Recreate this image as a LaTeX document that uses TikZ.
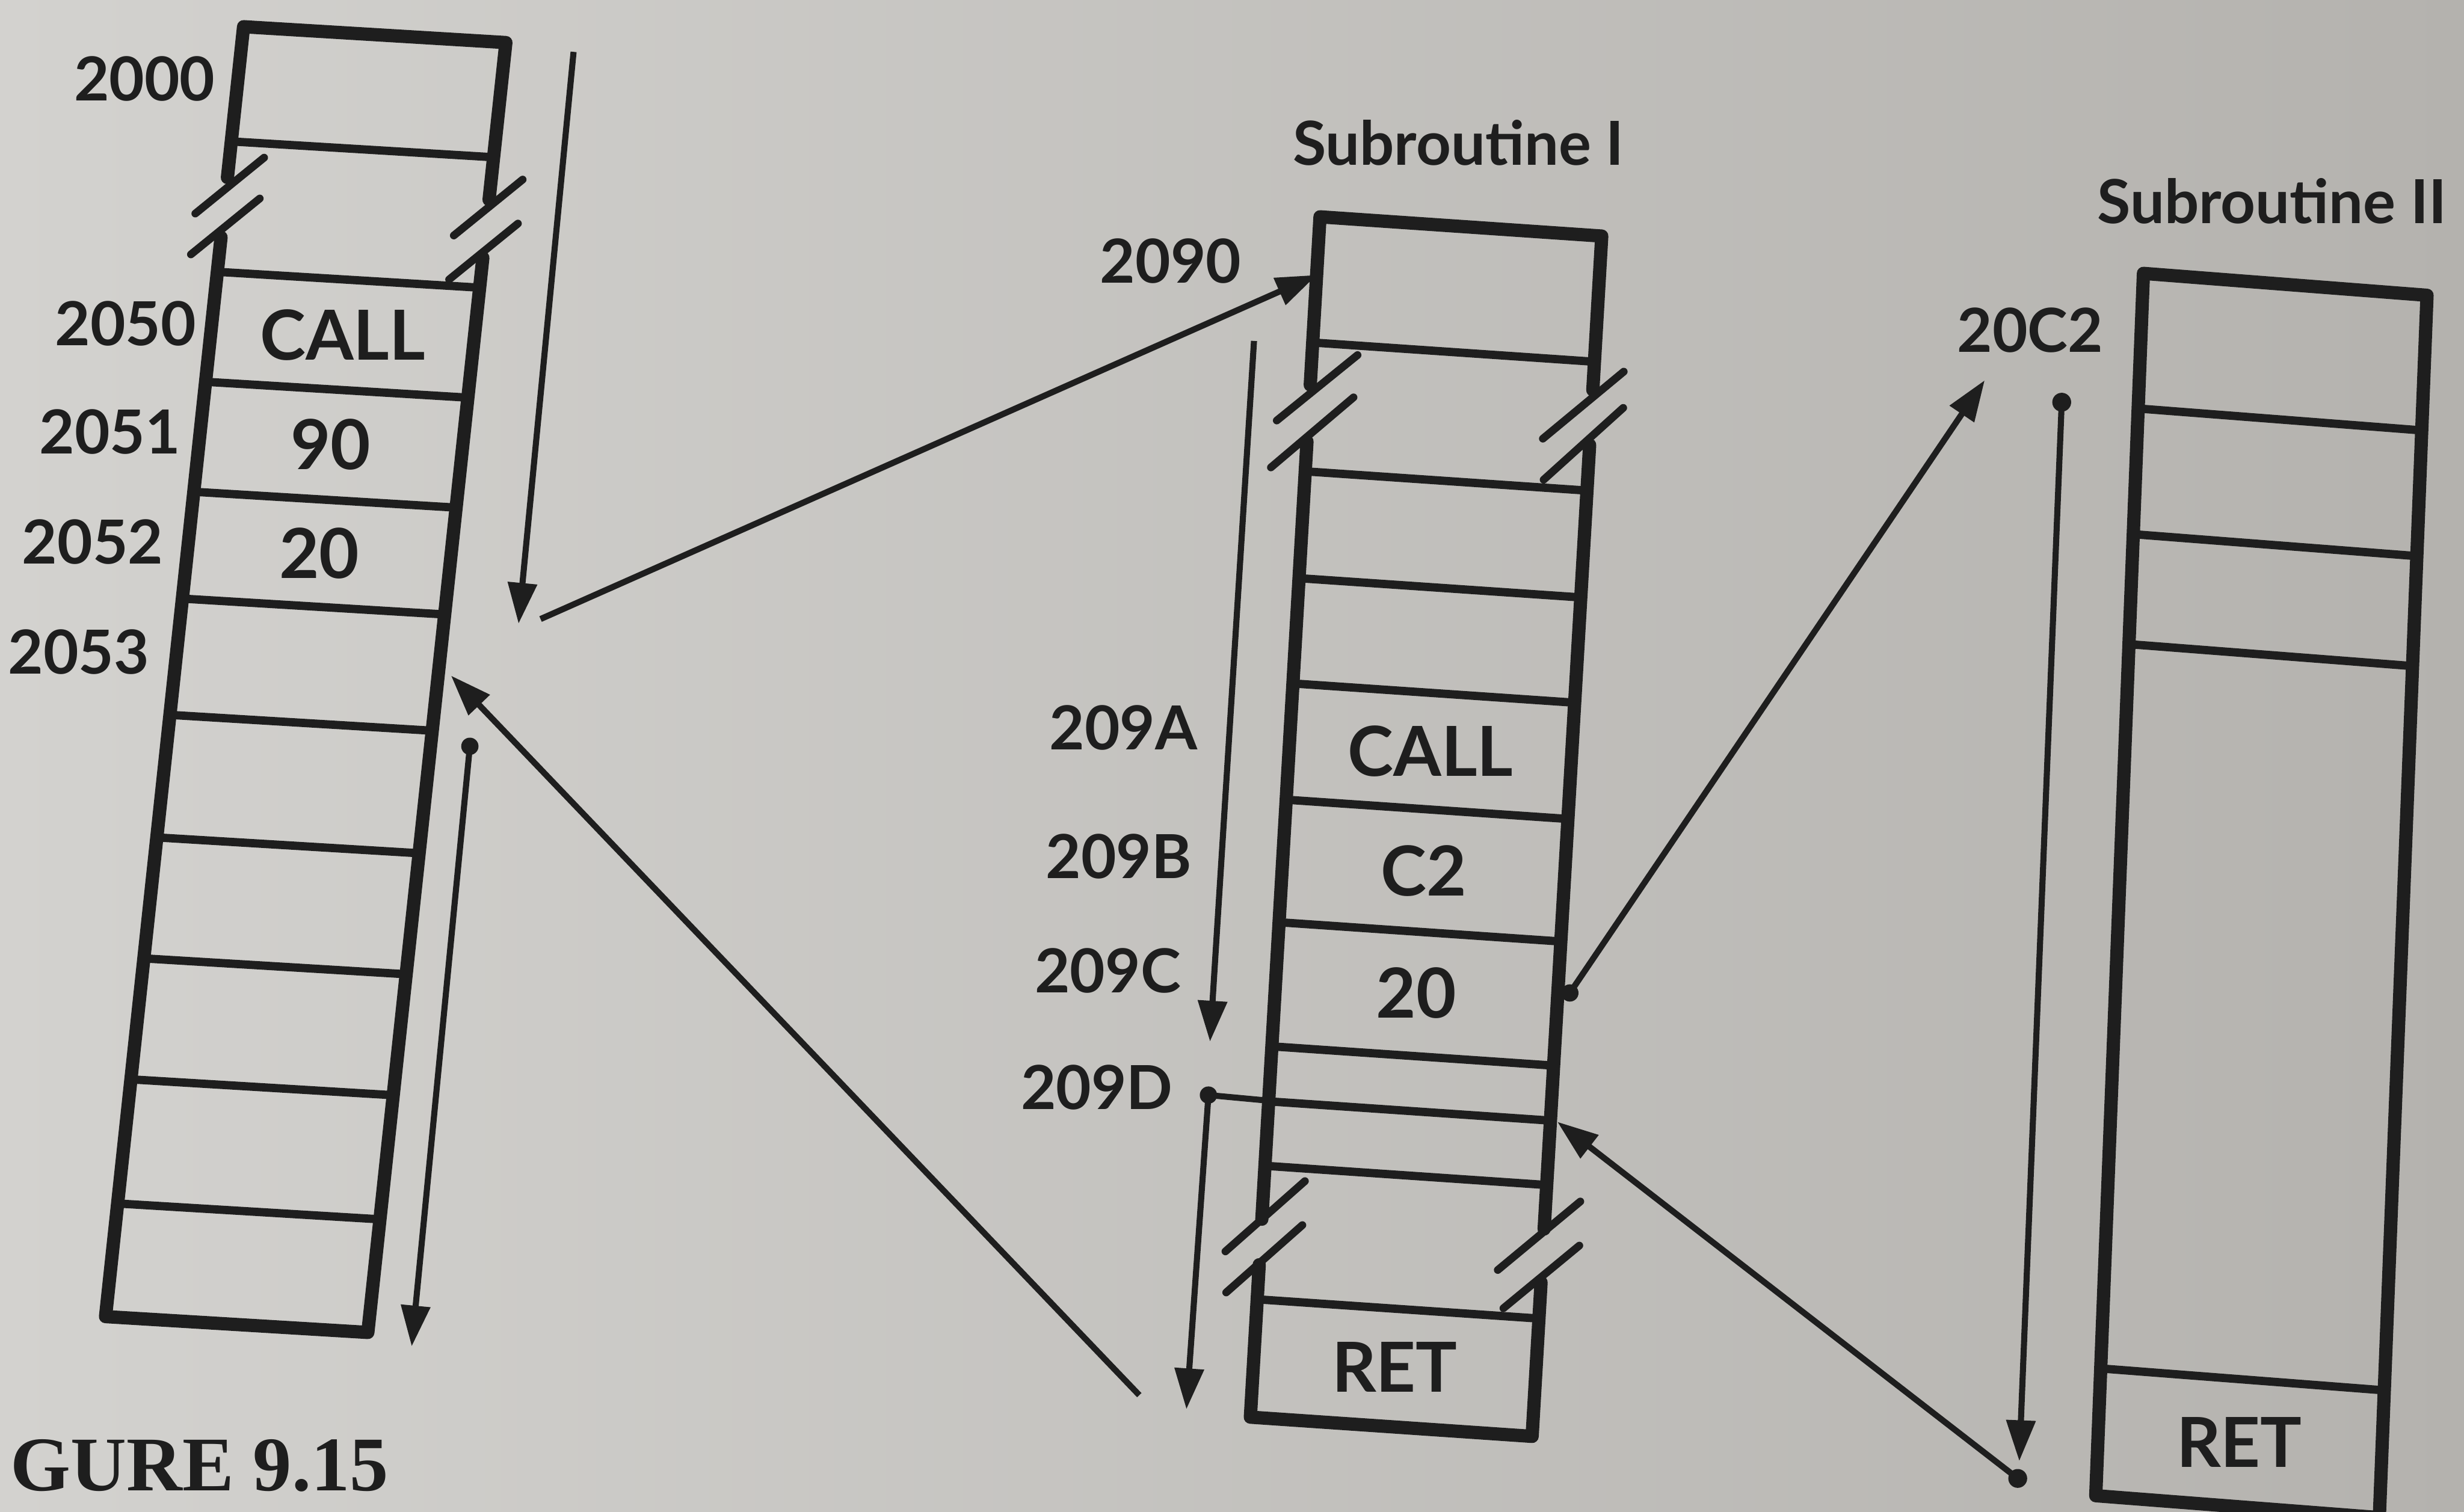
\documentclass[tikz,border=0pt]{standalone}
\usepackage{fontspec}
\usetikzlibrary{arrows.meta}
\newfontfamily\labfont{Lato}
\newfontfamily\capfont{Liberation Serif}
\definecolor{ink}{HTML}{1E1E1E}
\definecolor{paperL}{HTML}{D3D2CF}
\definecolor{paperR}{HTML}{B4B2AE}
\begin{document}
\begin{tikzpicture}[x=0.1mm,y=-0.1mm,
  outer/.style={draw=ink,line width=2.4pt,line join=round,line cap=round},
  inner/.style={draw=ink,line width=1.5pt},
  slash/.style={draw=ink,line width=1.4pt,line cap=round},
  conn/.style={draw=ink,line width=1.1pt,-{Triangle[length=2.6mm,width=1.8mm]}},
  plain/.style={draw=ink,line width=1.1pt},
  dot/.style={fill=ink},
  lab/.style={text=ink,font=\labfont\bfseries\fontsize{11}{13}\selectfont,inner sep=0pt},
  celltxt/.style={text=ink,font=\labfont\bfseries\fontsize{12.5}{14}\selectfont,inner sep=0pt},
  captxt/.style={text=ink,font=\capfont\bfseries\fontsize{14}{16}\selectfont,inner sep=0pt}]
\path[use as bounding box] (0,0) rectangle (1568,962);
\shade[left color=paperL,right color=paperR] (0,0) rectangle (1568,962);
\clip (0,0) rectangle (1568,962);

% ---------- Main program column ----------
\begin{scope}[shift={(155,17)},xslant=0.107,yslant=-0.06]
  \draw[outer] (0,96) -- (0,0) -- (168,0) -- (168,100);
  \draw[outer] (0,134) -- (0,821) -- (168,821) -- (168,137);
  \foreach \v in {73,156,226,296,364,438,516,593,670,749}
    \draw[inner] (0,\v) -- (168,\v);
  \draw[slash] (-18,120) -- (22,82);
  \draw[slash] (-18,146) -- (22,108);
  \draw[slash] (148,124) -- (188,86);
  \draw[slash] (148,152) -- (188,114);
  \node[celltxt] (mCALL) at (84,191) {CALL};
  \node[celltxt] (m90) at (84,261) {90};
  \node[celltxt] (m20) at (84,330) {20};
\end{scope}
\node[lab] (l2000) at (92,50) {2000};
\node[lab] (l2050) at (80,206) {2050};
\node[lab] (l2051) at (70,275) {2051};
\node[lab] (l2052) at (59,345) {2052};
\node[lab] (l2053) at (50,415) {2053};

% ---------- Subroutine I column ----------
\begin{scope}[shift={(840,138)},xslant=0.058,yslant=-0.068]
  \draw[outer] (0,107) -- (0,0) -- (180,0) -- (180,98);
  \draw[outer] (0,143) -- (0,638);
  \draw[outer] (180,133) -- (180,632);
  \draw[outer] (0,667) -- (0,764) -- (180,764) -- (180,666);
  \foreach \v in {80,162,230,297,371,449,528,563,604,689}
    \draw[inner] (0,\v) -- (180,\v);
  \draw[slash] (-20,131) -- (29,86);
  \draw[slash] (-22,161) -- (28,113);
  \draw[slash] (150,131) -- (199,85);
  \draw[slash] (152,157) -- (200,108);
  \draw[slash] (-22,660) -- (26,612);
  \draw[slash] (-20,686) -- (26,640);
  \draw[slash] (152,660) -- (202,613);
  \draw[slash] (157,684) -- (203,641);
  \node[celltxt] (sCALL) at (90,334) {CALL};
  \node[celltxt] (sC2) at (90,410) {C2};
  \node[celltxt] (s20) at (90,488) {20};
  \node[celltxt] (sRET) at (90,726) {RET};
\end{scope}
\node[lab] (tSub1) at (928,91) {Subroutine I};
\node[lab] (l2090) at (745,166) {2090};
\node[lab] (l209A) at (715,463) {209A};
\node[lab] (l209B) at (712,545) {209B};
\node[lab] (l209C) at (705,618) {209C};
\node[lab] (l209D) at (698,692) {209D};

% ---------- Subroutine II column ----------
\begin{scope}[shift={(1364,174)},xslant=0.039,yslant=-0.077]
  \draw[outer] (0,0) -- (181,0) -- (181,778) -- (0,778) -- cycle;
  \foreach \v in {86,166,236,697}
    \draw[inner] (0,\v) -- (181,\v);
  \node[celltxt] (tRET) at (90,737) {RET};
\end{scope}
\node[lab,anchor=west] (tSub2) at (1334,128) {Subroutine II};
\node[lab] (l20C2) at (1292,210) {20C2};

\node[captxt,anchor=south west] (fig) at (6,950) {GURE 9.15};

% ---------- connector end points ----------
\coordinate (aArrS) at (365,33);
\coordinate (aArrE) at (330,397);
\coordinate (jumpS) at (344,394);
\coordinate (jumpE) at (838,175);
\coordinate (bArrS) at (798,217);
\coordinate (bArrE) at (770,663);
\coordinate (callS) at (999,632);
\coordinate (callE) at (1263,242);
\coordinate (cArrS) at (1312,256);
\coordinate (cArrE) at (1285,930);
\coordinate (retS) at (1284,941);
\coordinate (retE) at (991,714);
\coordinate (dDot) at (769,697);
\coordinate (dEdge) at (812,701);
\coordinate (dArrE) at (755,897);
\coordinate (ret1S) at (725,888);
\coordinate (ret1E) at (287,430);
\coordinate (aRetS) at (299,475);
\coordinate (aRetE) at (262,857);

% ---------- connectors ----------
\draw[conn] (aArrS) -- (aArrE);
\draw[conn] (jumpS) -- (jumpE);
\draw[conn] (bArrS) -- (bArrE);
\draw[conn] (callS) -- (callE);
\draw[conn] (cArrS) -- (cArrE);
\draw[conn] (retS) -- (retE);
\draw[plain] (dDot) -- (dEdge);
\draw[conn] (dDot) -- (dArrE);
\draw[conn] (ret1S) -- (ret1E);
\draw[conn] (aRetS) -- (aRetE);
\fill[dot] (callS) circle (0.55mm);
\fill[dot] (cArrS) circle (0.6mm);
\fill[dot] (retS) circle (0.6mm);
\fill[dot] (dDot) circle (0.55mm);
\fill[dot] (aRetS) circle (0.55mm);
\end{tikzpicture}
\end{document}
